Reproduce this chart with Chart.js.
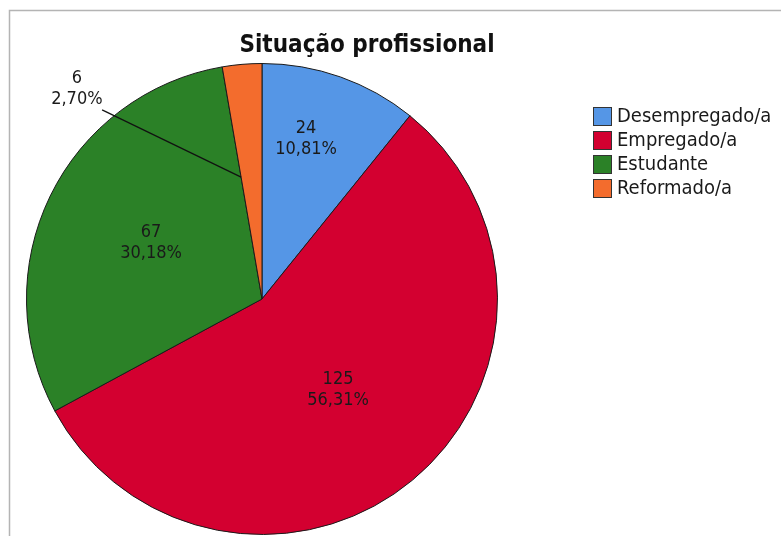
<!DOCTYPE html>
<html>
<head>
<meta charset="utf-8">
<script src="https://cdn.jsdelivr.net/npm/chart.js@4"></script>
<style>
  body { margin: 0; background: #fff; }
  canvas { display: block; }
</style>
</head>
<body>
<canvas id="chart" width="781" height="536"></canvas>
<script>
const chartTitle = 'Situação profissional';
const categories = ['Desempregado/a', 'Empregado/a', 'Estudante', 'Reformado/a'];
const counts = [24, 125, 67, 6];
const percents = ['10,81%', '56,31%', '30,18%', '2,70%'];
const colors = ['#5596e6', '#d30030', '#2b8127', '#f36c2d'];

// label block centres, as fractions of the pie radius from its centre
const labelSpots = [[0.187, -0.679], [0.323, 0.386], [-0.471, -0.238], [-0.786, -0.892]];
const FONT = '"DejaVu Sans Condensed", "DejaVu Sans", sans-serif';

const decor = {
  id: 'decor',
  beforeDraw(chart) {
    const ctx = chart.ctx;
    ctx.save();
    ctx.strokeStyle = '#b4b4b4';
    ctx.lineWidth = 1.5;
    ctx.beginPath();
    ctx.moveTo(9.5, 600);
    ctx.lineTo(9.5, 10.5);
    ctx.lineTo(800, 10.5);
    ctx.stroke();
    ctx.restore();
  },
  afterDraw(chart) {
    const ctx = chart.ctx;
    const arcs = chart.getDatasetMeta(0).data;
    ctx.save();

    // title
    ctx.fillStyle = '#111';
    ctx.font = 'bold 24px ' + FONT;
    ctx.textAlign = 'center';
    ctx.textBaseline = 'alphabetic';
    ctx.fillText(chartTitle, 367, 52);

    // slice labels
    ctx.font = '18px ' + FONT;
    ctx.fillStyle = '#1a1a1a';
    ctx.textBaseline = 'middle';
    arcs.forEach((arc, i) => {
      const r = arc.outerRadius;
      const x = arc.x + labelSpots[i][0] * r;
      const y = arc.y + labelSpots[i][1] * r;
      ctx.fillText(String(counts[i]), x, y - 11);
      ctx.fillText(percents[i], x, y + 10);
    });

    // leader line for the small slice
    const small = arcs[3];
    const R = small.outerRadius;
    ctx.strokeStyle = '#111';
    ctx.lineWidth = 1.2;
    ctx.beginPath();
    ctx.moveTo(small.x - 0.679 * R, small.y - 0.803 * R);
    ctx.lineTo(small.x + Math.cos(small.startAngle) * R * 0.525,
               small.y + Math.sin(small.startAngle) * R * 0.525);
    ctx.stroke();

    // legend
    ctx.textAlign = 'left';
    ctx.font = '20px ' + FONT;
    categories.forEach((c, i) => {
      const top = 107 + i * 24;
      ctx.fillStyle = colors[i];
      ctx.fillRect(593, top, 19, 19);
      ctx.strokeStyle = '#333';
      ctx.lineWidth = 1;
      ctx.strokeRect(593.5, top + 0.5, 18, 18);
      ctx.fillStyle = '#1a1a1a';
      ctx.fillText(c, 617, top + 10);
    });
    ctx.restore();
  }
};

new Chart(document.getElementById('chart').getContext('2d'), {
  type: 'pie',
  data: {
    labels: categories,
    datasets: [{
      data: counts,
      backgroundColor: colors,
      borderColor: '#1a1a1a',
      borderWidth: 1
    }]
  },
  options: {
    responsive: false,
    animation: false,
    layout: { padding: { top: 63, bottom: 1, left: 26, right: 283 } },
    plugins: {
      legend: { display: false },
      title: { display: false },
      tooltip: { enabled: false }
    }
  },
  plugins: [decor]
});
</script>
</body>
</html>
